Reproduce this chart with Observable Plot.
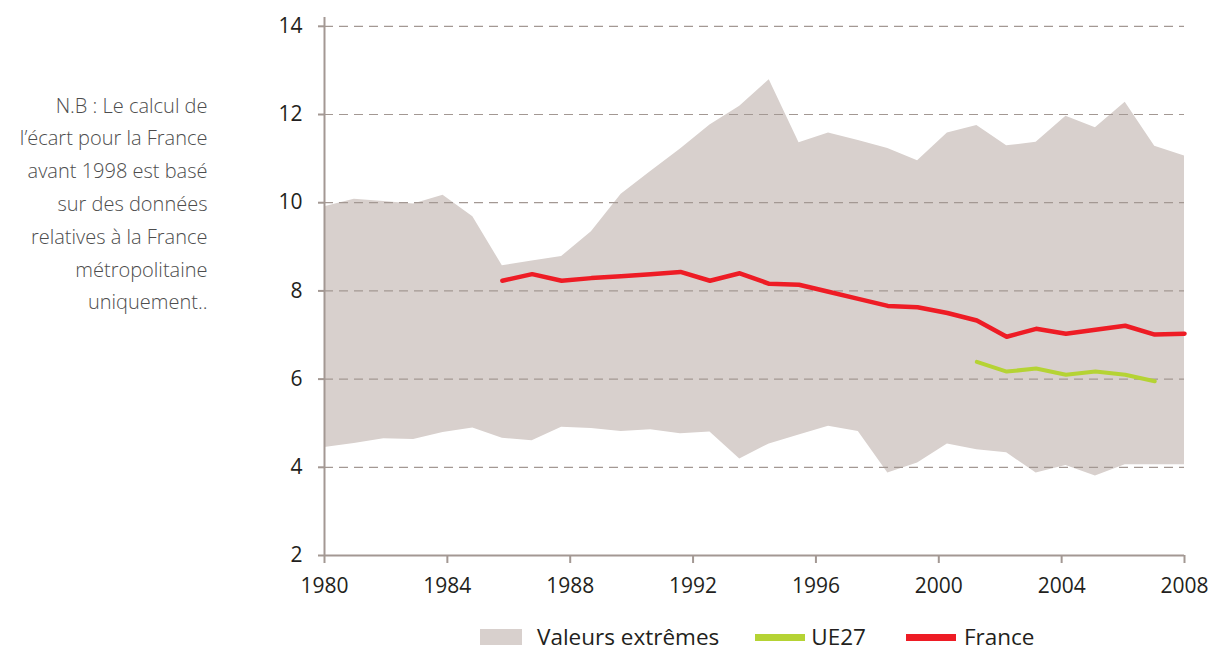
<!DOCTYPE html>
<html>
<head>
<meta charset="utf-8">
<script src="https://cdn.jsdelivr.net/npm/d3@7"></script>
<script src="https://cdn.jsdelivr.net/npm/@observablehq/plot@0.6"></script>
<style>
  html, body { margin: 0; padding: 0; background: #fff; }
  body { width: 1210px; height: 650px; position: relative; font-family: "Open Sans", sans-serif; overflow: hidden; }
  #chart { position: absolute; left: 0; top: 0; }
  #legend { position: absolute; left: 0; top: 624px; height: 26px; line-height: 26px; display: flex; align-items: center; font-size: 22.5px; color: #231f20; white-space: nowrap; }
  .sw { display: inline-block; }
</style>
</head>
<body>
<div id="chart"></div>
<div id="legend"></div>
<script>
// Positions of the data points along the year axis
const years = [1980, 1980.97, 1981.93, 1982.9, 1983.86, 1984.83, 1985.79, 1986.76, 1987.72, 1988.69,
  1989.66, 1990.62, 1991.59, 1992.55, 1993.52, 1994.48, 1995.45, 1996.41, 1997.38, 1998.34,
  1999.31, 2000.28, 2001.24, 2002.21, 2003.17, 2004.14, 2005.1, 2006.07, 2007.03, 2008];

// Valeurs extrêmes : maximum and minimum
const maxValues = [9.91, 10.08, 10.03, 9.97, 10.17, 9.68, 8.57, 8.68, 8.78, 9.34,
  10.19, 10.71, 11.22, 11.76, 12.19, 12.79, 11.36, 11.58, 11.41, 11.23,
  10.95, 11.58, 11.75, 11.29, 11.37, 11.96, 11.70, 12.28, 11.28, 11.06];
const minValues = [4.45, 4.54, 4.65, 4.63, 4.79, 4.89, 4.66, 4.60, 4.91, 4.88,
  4.81, 4.85, 4.76, 4.80, 4.19, 4.53, 4.73, 4.93, 4.81, 3.87,
  4.10, 4.53, 4.40, 4.33, 3.87, 4.04, 3.80, 4.06, 4.06, 4.06];

// France
const france = [null, null, null, null, null, null, 8.23, 8.38, 8.23, 8.29,
  8.33, 8.38, 8.43, 8.23, 8.40, 8.16, 8.14, 7.98, 7.82, 7.66,
  7.63, 7.50, 7.33, 6.96, 7.14, 7.03, 7.12, 7.21, 7.01, 7.03];

// UE27
const ue27 = [null, null, null, null, null, null, null, null, null, null,
  null, null, null, null, null, null, null, null, null, null,
  null, null, 6.39, 6.17, 6.24, 6.10, 6.17, 6.10, 5.95, null];

const xTicks = [1980, 1984, 1988, 1992, 1996, 2000, 2004, 2008];
const yTicks = [2, 4, 6, 8, 10, 12, 14];
const gridValues = [4, 6, 8, 10, 12, 14];

const seriesNames = ["Valeurs extrêmes", "UE27", "France"];
const seriesColors = ["#d8d0cd", "#b5d334", "#ee1c25"];

const note = "N.B : Le calcul de\nl’écart pour la France\navant 1998 est basé\nsur des données\nrelatives à la France\nmétropolitaine\nuniquement..";

const rows = years.map((t, i) => ({t, max: maxValues[i], min: minValues[i], fr: france[i], ue: ue27[i]}));

const axisColor = "#a39893";

const chart = Plot.plot({
  width: 1210,
  height: 600,
  marginLeft: 324,
  marginRight: 26,
  marginTop: 17,
  marginBottom: 45,
  x: {domain: [1980, 2008]},
  y: {domain: [2, 14.2]},
  style: {fontFamily: "'Open Sans', sans-serif", fontSize: "21px", color: "#231f20", background: "white"},
  marks: [
    Plot.areaY(rows, {x: "t", y1: "min", y2: "max", fill: seriesColors[0]}),
    Plot.ruleY(gridValues, {stroke: axisColor, strokeDasharray: "9,6", strokeWidth: 1.2}),
    Plot.ruleX([1980], {stroke: axisColor, strokeWidth: 2}),
    Plot.ruleY([2], {stroke: axisColor, strokeWidth: 2}),
    Plot.axisX({ticks: xTicks, tickFormat: d => String(d), tickSize: 8, tickPadding: 15, stroke: axisColor, strokeWidth: 2, fill: "#231f20", fontSize: 21, label: null}),
    Plot.axisY({ticks: yTicks, tickSize: 6, tickPadding: 16, stroke: axisColor, strokeWidth: 2, fill: "#231f20", fontSize: 21, label: null}),
    Plot.line(rows, {x: "t", y: "ue", stroke: seriesColors[1], strokeWidth: 4}),
    Plot.line(rows, {x: "t", y: "fr", stroke: seriesColors[2], strokeWidth: 4.5}),
    Plot.text([note], {frameAnchor: "top-left", dx: -117, dy: 183, textAnchor: "end", lineAnchor: "middle", lineHeight: 1.64, fontSize: 20, fontWeight: 300, fill: "#4d4d4d"})
  ]
});
document.getElementById("chart").appendChild(chart);

// Legend
const legend = document.getElementById("legend");
const legendSpec = [
  {name: seriesNames[0], color: seriesColors[0], w: 42, h: 16, ml: 480, gap: 15},
  {name: seriesNames[1], color: seriesColors[1], w: 50, h: 7, ml: 36, gap: 6},
  {name: seriesNames[2], color: seriesColors[2], w: 50, h: 7, ml: 40, gap: 8}
];
for (const s of legendSpec) {
  const sw = document.createElement("span");
  sw.className = "sw";
  sw.style.width = s.w + "px";
  sw.style.height = s.h + "px";
  sw.style.background = s.color;
  sw.style.marginLeft = s.ml + "px";
  const tx = document.createElement("span");
  tx.textContent = s.name;
  tx.style.marginLeft = s.gap + "px";
  legend.appendChild(sw);
  legend.appendChild(tx);
}
</script>
</body>
</html>
